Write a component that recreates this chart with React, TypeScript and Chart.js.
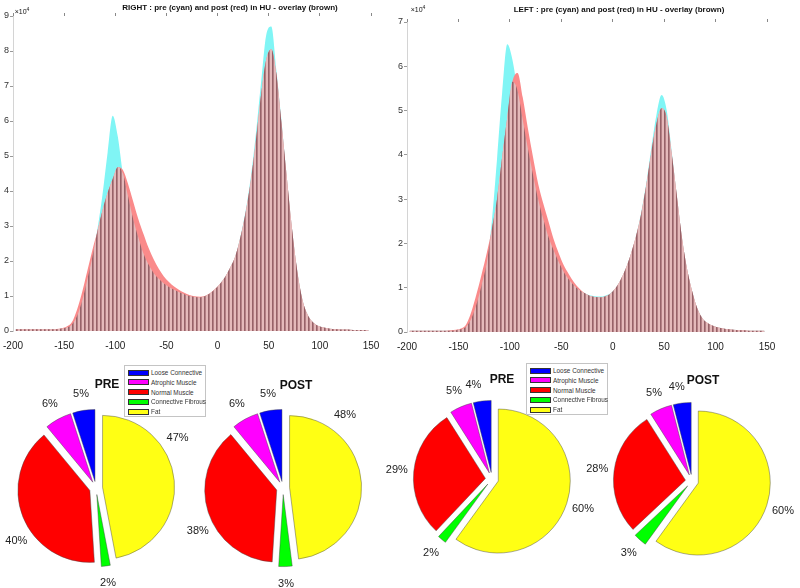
import React, { useEffect, useRef } from "react";
import { Chart, registerables } from "chart.js";

Chart.register(...registerables);

// ---------------- DATA ----------------
// Histogram bin centres (HU), 5 HU bins
const HU_BINS = [
  -197.5, -192.5, -187.5, -182.5, -177.5, -172.5, -167.5, -162.5, -157.5, -152.5,
  -147.5, -142.5, -137.5, -132.5, -127.5, -122.5, -117.5, -112.5, -107.5, -102.5,
  -97.5, -92.5, -87.5, -82.5, -77.5, -72.5, -67.5, -62.5, -57.5, -52.5,
  -47.5, -42.5, -37.5, -32.5, -27.5, -22.5, -17.5, -12.5, -7.5, -2.5,
  2.5, 7.5, 12.5, 17.5, 22.5, 27.5, 32.5, 37.5, 42.5, 47.5,
  52.5, 57.5, 62.5, 67.5, 72.5, 77.5, 82.5, 87.5, 92.5, 97.5,
  102.5, 107.5, 112.5, 117.5, 122.5, 127.5, 132.5, 137.5, 142.5, 147.5,
];

// counts in units of 1e4
const RIGHT_PRE = [
  0.05, 0.05, 0.05, 0.05, 0.05, 0.05, 0.05, 0.05, 0.05, 0.07,
  0.1, 0.18, 0.42, 0.85, 1.45, 2.1, 2.9, 3.9, 5.1, 6.15,
  5.55, 4.5, 3.85, 3.2, 2.68, 2.22, 1.9, 1.66, 1.49, 1.36,
  1.26, 1.18, 1.11, 1.05, 1.0, 0.97, 0.96, 0.99, 1.07, 1.19,
  1.35, 1.55, 1.82, 2.15, 2.72, 3.45, 4.4, 5.65, 7.1, 8.45,
  8.7, 7.45, 6.0, 4.45, 3.0, 1.8, 0.95, 0.5, 0.27, 0.16,
  0.11, 0.08, 0.06, 0.05, 0.04, 0.04, 0.03, 0.03, 0.03, 0.03,
];
const RIGHT_POST = [
  0.05, 0.05, 0.05, 0.05, 0.05, 0.05, 0.05, 0.05, 0.06, 0.08,
  0.13, 0.25, 0.6, 1.1, 1.7, 2.3, 2.85, 3.45, 3.95, 4.35,
  4.68, 4.6, 4.2, 3.7, 3.2, 2.78, 2.38, 2.05, 1.78, 1.56,
  1.4, 1.27, 1.17, 1.09, 1.03, 0.99, 0.98, 1.0, 1.08, 1.2,
  1.35, 1.55, 1.82, 2.15, 2.7, 3.4, 4.3, 5.45, 6.75, 7.75,
  8.05, 7.35, 5.95, 4.45, 3.0, 1.8, 0.95, 0.5, 0.27, 0.16,
  0.11, 0.08, 0.06, 0.05, 0.04, 0.04, 0.03, 0.03, 0.03, 0.03,
];
const LEFT_PRE = [
  0.03, 0.03, 0.03, 0.03, 0.03, 0.03, 0.03, 0.03, 0.03, 0.04,
  0.06, 0.12, 0.3, 0.62, 1.05, 1.55, 2.5, 3.9, 5.4, 6.5,
  6.15, 5.45, 4.8, 4.15, 3.55, 3.0, 2.55, 2.15, 1.85, 1.58,
  1.35, 1.18, 1.05, 0.95, 0.88, 0.83, 0.81, 0.8, 0.82, 0.87,
  0.98, 1.17, 1.42, 1.75, 2.15, 2.68, 3.35, 4.15, 4.9, 5.35,
  5.0, 4.05, 3.05, 2.1, 1.4, 0.9, 0.52, 0.3, 0.2, 0.14,
  0.1, 0.08, 0.06, 0.05, 0.04, 0.04, 0.03, 0.03, 0.03, 0.03,
];
const LEFT_POST = [
  0.03, 0.03, 0.03, 0.03, 0.03, 0.03, 0.03, 0.03, 0.04, 0.05,
  0.08, 0.17, 0.45, 0.85, 1.3, 1.78, 2.32, 3.0, 3.95, 4.85,
  5.65, 5.85, 5.3, 4.6, 3.95, 3.35, 2.9, 2.5, 2.1, 1.78,
  1.5, 1.3, 1.12, 0.98, 0.88, 0.82, 0.79, 0.78, 0.8, 0.86,
  0.98, 1.17, 1.42, 1.75, 2.15, 2.65, 3.3, 4.05, 4.7, 5.05,
  4.85, 4.0, 3.05, 2.1, 1.4, 0.9, 0.52, 0.3, 0.2, 0.14,
  0.1, 0.08, 0.06, 0.05, 0.04, 0.04, 0.03, 0.03, 0.03, 0.03,
];

const TISSUES = ["Loose Connective", "Atrophic Muscle", "Normal Muscle", "Connective Fibrous", "Fat"];
const TISSUE_COLORS = ["#0000ff", "#ff00ff", "#ff0000", "#00ff00", "#ffff14"];

const RIGHT_PRE_PCT = [5, 6, 40, 2, 47];
const RIGHT_POST_PCT = [5, 6, 38, 3, 48];
const LEFT_PRE_PCT = [4, 5, 29, 2, 60];
const LEFT_POST_PCT = [4, 5, 28, 3, 60];

// ---------------- STYLE / LAYOUT ----------------
const FONT = '"Liberation Sans", Arial, Helvetica, sans-serif';
const PIE_R = 72;
const EXPLODE = 6.6;
const PIE_CANVAS = 240;

function makeStripePattern(): CanvasPattern | string {
  const c = document.createElement("canvas");
  c.width = 4;
  c.height = 1;
  const g = c.getContext("2d");
  if (!g) return "rgb(200,150,150)";
  g.fillStyle = "rgb(228,185,186)";
  g.fillRect(0, 0, 4, 1);
  g.fillStyle = "rgb(150,98,104)";
  g.fillRect(0, 0, 1, 1);
  g.fillStyle = "rgb(180,128,133)";
  g.fillRect(1, 0, 1, 1);
  return g.createPattern(c, "repeat") || "rgb(200,150,150)";
}

type HistProps = {
  pre: number[];
  post: number[];
  yMax: number;
  left: number;
  width: number;
  height: number;
  pad: { top: number; right: number; bottom: number; left: number };
  yAxisWidth: number;
};

function Histogram({ pre, post, yMax, left, width, height, pad, yAxisWidth }: HistProps) {
  const ref = useRef<HTMLCanvasElement>(null);
  useEffect(() => {
    if (!ref.current) return;
    const overlay = pre.map((v, i) => Math.min(v, post[i]));
    const pts = (arr: number[]) => HU_BINS.map((x, i) => ({ x, y: arr[i] }));
    const common = {
      pointRadius: 0,
      cubicInterpolationMode: "monotone" as const,
      fill: "origin" as const,
    };
    const tickFont = { family: FONT, size: 10 };
    const noSidePad = (s: any) => {
      s.paddingLeft = 0;
      s.paddingRight = 0;
    };
    const chart = new Chart(ref.current, {
      type: "line",
      data: {
        datasets: [
          { ...common, label: "overlay", data: pts(overlay), backgroundColor: makeStripePattern(), borderWidth: 0 },
          { ...common, label: "post", data: pts(post), backgroundColor: "rgb(250,138,138)", borderWidth: 0 },
          { ...common, label: "pre", data: pts(pre), backgroundColor: "rgb(128,245,245)", borderWidth: 0 },
        ],
      },
      options: {
        responsive: false,
        animation: false,
        events: [],
        layout: { padding: pad },
        plugins: { legend: { display: false }, tooltip: { enabled: false }, title: { display: false } },
        scales: {
          x: {
            type: "linear",
            min: -200,
            max: 150,
            ticks: { stepSize: 50, font: tickFont, color: "#222", padding: 9, maxRotation: 0 },
            grid: { display: false, drawTicks: false },
            border: { display: false },
            afterFit: (s: any) => {
              s.height = 24;
              noSidePad(s);
            },
          },
          xTop: {
            type: "linear",
            position: "top",
            min: -200,
            max: 150,
            ticks: { display: false, stepSize: 50 },
            grid: { drawOnChartArea: false, drawTicks: true, tickLength: 3, color: "#888" },
            border: { display: false },
            afterFit: (s: any) => {
              s.height = 3;
              noSidePad(s);
            },
          },
          y: {
            min: 0,
            max: yMax,
            ticks: { stepSize: 1, font: { family: FONT, size: 9 }, color: "#333", padding: 1 },
            grid: { drawOnChartArea: false, drawTicks: true, tickLength: 3, color: "#999" },
            border: { display: true, color: "#d4d4d4" },
            afterFit: (s: any) => {
              s.width = yAxisWidth;
              s.paddingTop = 0;
              s.paddingBottom = 0;
            },
          },
        },
      } as any,
    });
    return () => chart.destroy();
  }, []);
  return (
    <canvas
      ref={ref}
      width={width}
      height={height}
      style={{ position: "absolute", left, top: 0, width, height }}
    />
  );
}

type PieProps = { values: number[]; shifts: number[]; cx: number; cy: number };

function ExplodedPie({ values, shifts, cx, cy }: PieProps) {
  const ref = useRef<HTMLCanvasElement>(null);
  useEffect(() => {
    if (!ref.current) return;
    const n = values.length;
    // MATLAB draws counter-clockwise from the top; Chart.js goes clockwise, so reverse.
    const data = [...values].reverse();
    const colors = [...TISSUE_COLORS].reverse();
    const labels = [...TISSUES].reverse();
    const explodePlugin = {
      id: "explode",
      beforeDatasetDraw(chart: any, args: any) {
        const ctx = chart.ctx;
        args.meta.data.forEach((arc: any) => {
          const mid = (arc.startAngle + arc.endAngle) / 2;
          ctx.save();
          ctx.translate(Math.cos(mid) * EXPLODE, Math.sin(mid) * EXPLODE);
          arc.draw(ctx);
          ctx.restore();
        });
        return false;
      },
    };
    const labelPlugin = {
      id: "pctLabels",
      afterDatasetsDraw(chart: any) {
        const ctx = chart.ctx;
        const meta = chart.getDatasetMeta(0);
        ctx.save();
        ctx.font = `11px ${FONT}`;
        ctx.fillStyle = "#222";
        ctx.textAlign = "center";
        ctx.textBaseline = "middle";
        meta.data.forEach((arc: any, j: number) => {
          const li = n - 1 - j;
          const mid = (arc.startAngle + arc.endAngle) / 2 + (shifts[li] * Math.PI) / 180;
          const r = arc.outerRadius + EXPLODE + 17;
          ctx.fillText(`${values[li]}%`, arc.x + Math.cos(mid) * r, arc.y + Math.sin(mid) * r);
        });
        ctx.restore();
      },
    };
    const chart = new Chart(ref.current, {
      type: "pie",
      data: {
        labels,
        datasets: [
          {
            data,
            backgroundColor: colors,
            borderColor: "rgba(70,70,70,0.75)",
            borderWidth: 0.6,
          },
        ],
      },
      options: {
        responsive: false,
        animation: false,
        events: [],
        radius: PIE_R,
        layout: { padding: 0 },
        plugins: { legend: { display: false }, tooltip: { enabled: false } },
      } as any,
      plugins: [explodePlugin, labelPlugin],
    });
    return () => chart.destroy();
  }, []);
  return (
    <canvas
      ref={ref}
      width={PIE_CANVAS}
      height={PIE_CANVAS}
      style={{
        position: "absolute",
        left: cx - PIE_CANVAS / 2,
        top: cy - PIE_CANVAS / 2,
        width: PIE_CANVAS,
        height: PIE_CANVAS,
      }}
    />
  );
}

function Legend({ left, top }: { left: number; top: number }) {
  return (
    <div
      style={{
        position: "absolute",
        left,
        top,
        width: 82,
        height: 52,
        border: "1px solid #c4c4c4",
        background: "#fff",
        boxSizing: "border-box",
      }}
    >
      {TISSUES.map((t, i) => (
        <div key={t} style={{ position: "absolute", left: 0, top: 2 + i * 9.8, height: 9, width: 81 }}>
          <div
            style={{
              position: "absolute",
              left: 3,
              top: 1.5,
              width: 21,
              height: 6,
              background: TISSUE_COLORS[i],
              border: "0.5px solid #333",
              boxSizing: "border-box",
            }}
          />
          <div
            style={{
              position: "absolute",
              left: 26,
              top: 0,
              fontSize: 6.4,
              lineHeight: "9px",
              color: "#333",
              whiteSpace: "nowrap",
              fontFamily: FONT,
            }}
          >
            {t}
          </div>
        </div>
      ))}
    </div>
  );
}

function Label({
  x,
  y,
  text,
  size,
  bold,
}: {
  x: number;
  y: number;
  text: React.ReactNode;
  size: number;
  bold?: boolean;
}) {
  return (
    <div
      style={{
        position: "absolute",
        left: x,
        top: y,
        transform: "translate(-50%, -50%)",
        fontSize: size,
        fontWeight: bold ? 700 : 400,
        whiteSpace: "nowrap",
        color: "#111",
        fontFamily: FONT,
        lineHeight: 1,
      }}
    >
      {text}
    </div>
  );
}

export default function App() {
  return (
    <div
      style={{
        position: "absolute",
        left: 0,
        top: 0,
        width: 800,
        height: 588,
        overflow: "hidden",
        background: "#fff",
        fontFamily: FONT,
      }}
    >
      <Histogram
        pre={RIGHT_PRE}
        post={RIGHT_POST}
        yMax={9}
        left={0}
        width={400}
        height={360}
        pad={{ top: 13, right: 29, bottom: 5, left: 0 }}
        yAxisWidth={13}
      />
      <Histogram
        pre={LEFT_PRE}
        post={LEFT_POST}
        yMax={7}
        left={396}
        width={404}
        height={360}
        pad={{ top: 19, right: 33, bottom: 4, left: 0 }}
        yAxisWidth={11}
      />
      <ExplodedPie values={RIGHT_PRE_PCT} shifts={[0, 0, -12, 0, -26]} cx={96} cy={488} />
      <ExplodedPie values={RIGHT_POST_PCT} shifts={[0, 0, -9, 0, -46]} cx={283} cy={488} />
      <ExplodedPie values={LEFT_PRE_PCT} shifts={[-4, 0, 0, 0, 0]} cx={492} cy={479} />
      <ExplodedPie values={LEFT_POST_PCT} shifts={[-2, 0, 0, 0, 0]} cx={692} cy={481} />

      <Label x={230} y={8} size={8} bold text="RIGHT : pre (cyan) and post (red) in HU - overlay (brown)" />
      <Label x={619} y={10} size={8} bold text="LEFT : pre (cyan) and post (red) in HU - overlay (brown)" />
      <Label x={22} y={11} size={7} text={<span>×10<sup style={{ fontSize: 5 }}>4</sup></span>} />
      <Label x={418} y={9} size={7} text={<span>×10<sup style={{ fontSize: 5 }}>4</sup></span>} />

      <Label x={107} y={384} size={12} bold text="PRE" />
      <Label x={296} y={385} size={12} bold text="POST" />
      <Label x={502} y={379} size={12} bold text="PRE" />
      <Label x={703} y={380} size={12} bold text="POST" />

      <Legend left={124} top={365} />
      <Legend left={526} top={363} />
    </div>
  );
}
